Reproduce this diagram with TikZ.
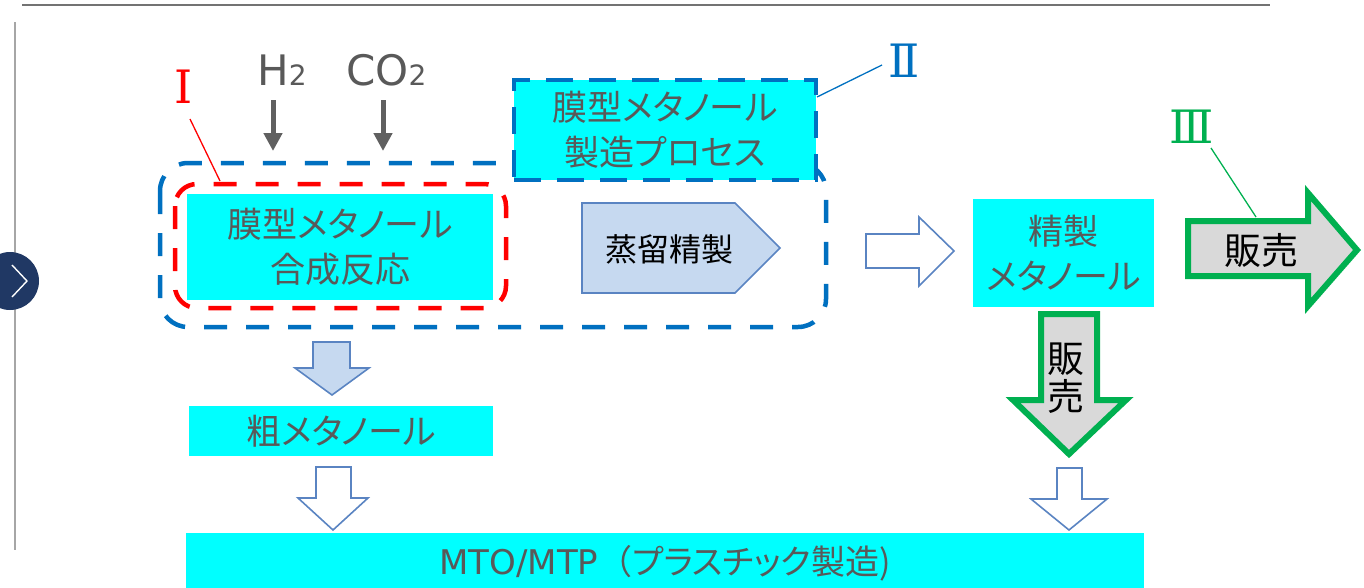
\documentclass[tikz,border=0pt]{standalone}
\usepackage{fontspec}
\setmainfont{DejaVu Sans}
\newfontfamily\jp[RawFeature=+palt]{Noto Sans CJK JP}
\newfontfamily\jpfull{Noto Sans CJK JP}
\newfontfamily\romfont{DejaVu Serif}
\usetikzlibrary{arrows.meta}
\definecolor{txtgray}{HTML}{595959}
\definecolor{cyanbox}{HTML}{00FFFF}
\definecolor{blueline}{HTML}{0070C0}
\definecolor{greenline}{HTML}{00B050}
\definecolor{lightblue}{HTML}{C6D9F0}
\definecolor{arrowblue}{HTML}{5A84C2}
\definecolor{navy}{HTML}{203864}
\definecolor{arrowgray}{HTML}{606060}
\definecolor{sellgray}{HTML}{D9D9D9}
\tikzset{
  cbox/.style={fill=cyanbox, inner sep=0pt, text=txtgray, align=center},
  jtext/.style={font=\jp\fontsize{35}{45}\selectfont},
  hollow/.style={draw=arrowblue, line width=1.6pt, fill=white, line join=miter},
  sell/.style={draw=greenline, line width=6pt, fill=sellgray, line join=miter},
  feed/.style={draw=arrowgray, line width=5pt, -{Triangle[length=18pt,width=18pt]}},
  romanlabel/.style={font=\romfont\fontsize{46}{46}\selectfont, inner sep=0pt},
}
\begin{document}
\begin{tikzpicture}[x=1pt,y=-1pt]
\useasboundingbox (0,0) rectangle (1364,587);
% frame lines
\draw[line width=2pt, color=gray!110] (22,4.5) -- (1270,4.5);
\draw[line width=2pt, color=gray!70] (15,22) -- (15,550);
\node[circle, fill=navy, minimum size=58pt, inner sep=0pt] (nav) at (10,281) {};
\draw[white, line width=1.4pt] (12,265) -- (27,281) -- (12,297);

% outer dashed process region
\draw[blueline, line width=4.5pt, dash pattern=on 23pt off 19pt, rounded corners=28pt] (160,163) rectangle (826,327);
% red dashed region
\draw[red, line width=4.5pt, dash pattern=on 23pt off 19pt, rounded corners=22pt] (175,184) rectangle (506,308);
% synthesis box
\node[cbox, jtext, minimum width=306pt, minimum height=106pt] (synth) at (340,247) {膜型メタノール\\合成反応};
% process box
\node[cbox, jtext, minimum width=302pt, minimum height=100pt, draw=blueline, line width=4pt, dash pattern=on 27pt off 16pt] (proc) at (665,130) {膜型メタノール\\製造プロセス};

% feeds
\node[anchor=base west, inner sep=0pt, text=txtgray, font=\fontsize{42}{42}\selectfont] (h2) at (257,85) {H{\fontsize{28}{28}\selectfont 2}};
\node[anchor=base west, inner sep=0pt, text=txtgray, font=\fontsize{42}{42}\selectfont] (co2) at (346,85) {CO{\fontsize{28}{28}\selectfont 2}};
\coordinate (h2a) at (273,100); \coordinate (h2b) at (273,151);
\coordinate (co2a) at (383,100); \coordinate (co2b) at (383,151);
\draw[feed] (h2a) -- (h2b);
\draw[feed] (co2a) -- (co2b);

% roman labels
\node[romanlabel, text=red] (r1) at (184,87) {Ⅰ};
\coordinate (r1a) at (190,119); \coordinate (r1b) at (220,181);
\draw[red, line width=1.3pt] (r1a) -- (r1b);
\node[romanlabel, text=blueline] (r2) at (904,61) {Ⅱ};
\coordinate (r2a) at (817,97); \coordinate (r2b) at (882,65);
\draw[blueline, line width=1.3pt] (r2a) -- (r2b);
\node[romanlabel, text=greenline] (r3) at (1192,127) {Ⅲ};
\coordinate (r3a) at (1211,148); \coordinate (r3b) at (1256,217);
\draw[greenline, line width=1.3pt] (r3a) -- (r3b);

% distillation pentagon
\draw[draw=arrowblue, line width=1.6pt, fill=lightblue, line join=miter] (582,203) -- (735,203) -- (780,248) -- (735,293) -- (582,293) -- cycle;
\node[font=\jp\fontsize{32}{32}\selectfont, text=black] (dist) at (669,249) {蒸留精製};

% hollow right arrow
\draw[hollow] (866,234) -- (919,234) -- (919,217) -- (954,251) -- (919,286) -- (919,268) -- (866,268) -- cycle;

% refined methanol
\node[cbox, jtext, minimum width=181pt, minimum height=108pt] (refined) at (1063.5,253) {精製\\メタノール};

% sell right
\draw[sell] (1188,221) -- (1308,221) -- (1308,193) -- (1357,250) -- (1308,306) -- (1308,276) -- (1188,276) -- cycle;
\node[font=\jp\fontsize{37}{37}\selectfont, text=black] (sellr) at (1261,250) {販売};

% sell down
\draw[sell] (1041,314) -- (1097,314) -- (1097,400) -- (1126,400) -- (1069,454) -- (1013,400) -- (1041,400) -- cycle;
\node[font=\jp\fontsize{37}{38}\selectfont, text=black, align=center] (selld) at (1066,378) {販\\売};

% light blue down arrow
\draw[draw=arrowblue, line width=1.6pt, fill=lightblue, line join=miter] (313,342) -- (350,342) -- (350,368) -- (369,368) -- (332,395) -- (295,368) -- (313,368) -- cycle;

% crude methanol
\node[cbox, jtext, minimum width=304pt, minimum height=50pt] (crude) at (341,431) {粗メタノール};

% hollow down arrows
\draw[hollow] (316,467) -- (351,467) -- (351,498) -- (368,498) -- (333,530) -- (298,498) -- (316,498) -- cycle;
\draw[hollow] (1057,468) -- (1082,468) -- (1082,499) -- (1107,499) -- (1069,530) -- (1031,499) -- (1057,499) -- cycle;

% MTO box
\node[cbox, minimum width=958pt, minimum height=60pt, font=\fontsize{34}{34}\selectfont] (mto) at (665,563) {MTO/MTP{\jpfull （}{\jp プラスチック製造)}};
\end{tikzpicture}
\end{document}
